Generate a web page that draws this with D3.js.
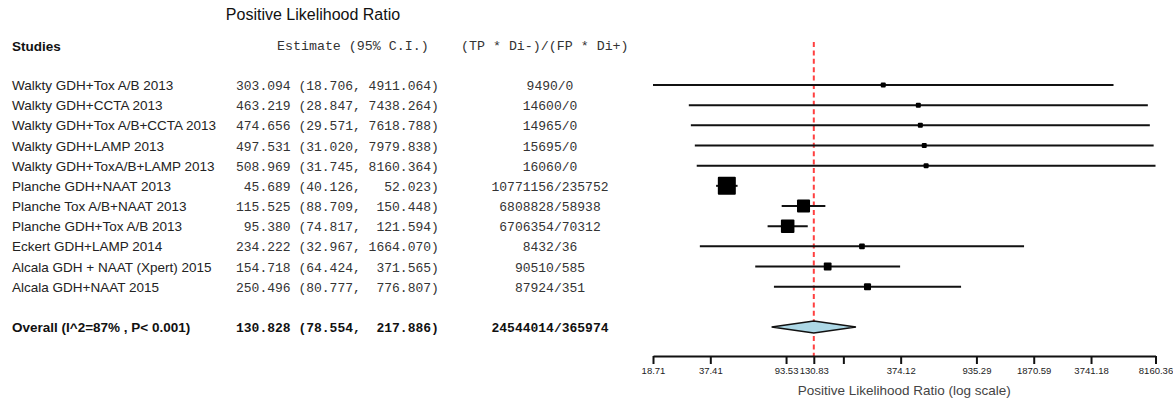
<!DOCTYPE html>
<html>
<head>
<meta charset="utf-8">
<script src="https://cdn.jsdelivr.net/npm/d3@7"></script>
<style>
  html, body { margin: 0; padding: 0; background: #fff; }
  svg { display: block; }
  .mono { font-family: "Courier New", "Liberation Mono", "DejaVu Sans Mono", monospace; white-space: pre; }
  .sans { font-family: Arial, "Liberation Sans", Helvetica, sans-serif; }
</style>
</head>
<body>
<svg id="chart" width="1173" height="398"></svg>
<script>
// Study labels and positive likelihood ratios with 95% confidence limits
const studies = [
  "Walkty GDH+Tox A/B 2013",
  "Walkty GDH+CCTA 2013",
  "Walkty GDH+Tox A/B+CCTA 2013",
  "Walkty GDH+LAMP 2013",
  "Walkty GDH+ToxA/B+LAMP 2013",
  "Planche GDH+NAAT 2013",
  "Planche Tox A/B+NAAT 2013",
  "Planche GDH+Tox A/B 2013",
  "Eckert GDH+LAMP 2014",
  "Alcala GDH + NAAT (Xpert) 2015",
  "Alcala GDH+NAAT 2015"
];
const estimates = [303.094, 463.219, 474.656, 497.531, 508.969, 45.689, 115.525, 95.380, 234.222, 154.718, 250.496];
const lowerCI   = [18.706, 28.847, 29.571, 31.020, 31.745, 40.126, 88.709, 74.817, 32.967, 64.424, 80.777];
const upperCI   = [4911.064, 7438.264, 7618.788, 7979.838, 8160.364, 52.023, 150.448, 121.594, 1664.070, 371.565, 776.807];
const ratioText = ["9490/0", "14600/0", "14965/0", "15695/0", "16060/0", "10771156/235752",
                   "6808828/58938", "6706354/70312", "8432/36", "90510/585", "87924/351"];

// Pooled (random effects) result
const overallLabel = "Overall (I^2=87% , P< 0.001)";
const overallEstimate = 130.828;
const overallLower = 78.554;
const overallUpper = 217.886;
const overallRatio = "24544014/365974";

// Axis ticks and their printed labels
const tickValues = [18.706, 37.412, 93.53, 130.828, 187.06, 374.12, 935.29, 1870.59, 3741.18, 8160.364];
const tickLabels = ["18.71", "37.41", "93.53", "130.83", "", "374.12", "935.29", "1870.59", "3741.18", "8160.36"];

const svg = d3.select("#chart");

// Log scale for the ratio axis
const x = d3.scaleLog()
  .domain([d3.min(lowerCI), d3.max(upperCI)])
  .range([653, 1155.5]);

// Row positions: studies, a blank row, then the pooled row
const rowKeys = studies.map((d, i) => "s" + i).concat(["gap", "overall"]);
const y = d3.scalePoint().domain(rowKeys).range([85, 327]);

// Inverse-variance weight from the CI width, used for square size
const weights = lowerCI.map((lo, i) => {
  const se = (Math.log(upperCI[i]) - Math.log(lo)) / (2 * 1.96);
  return 1 / (se * se);
});
const size = d3.scalePow().exponent(0.25)
  .domain(d3.extent(weights))
  .range([5, 18]);

const f3 = d3.format(".3f");
const pad = (s, n) => s.padStart(n, " ");
const ciString = (e, lo, hi) => pad(f3(e), 7) + " (" + pad(f3(lo), 6) + ", " + pad(f3(hi), 8) + ")";

// Title and column headers
svg.append("text").attr("class", "sans")
  .attr("x", 313).attr("y", 20)
  .attr("text-anchor", "middle")
  .attr("font-size", 16).attr("fill", "#111")
  .text("Positive Likelihood Ratio");

svg.append("text").attr("class", "sans")
  .attr("x", 12).attr("y", 51)
  .attr("font-size", 13.5).attr("font-weight", "bold").attr("fill", "#111")
  .text("Studies");

svg.append("text").attr("class", "mono")
  .attr("x", 277).attr("y", 50)
  .attr("font-size", 13.3).attr("fill", "#333")
  .text("Estimate (95% C.I.)");

svg.append("text").attr("class", "mono")
  .attr("x", 461).attr("y", 50)
  .attr("font-size", 13.3).attr("fill", "#333")
  .text("(TP * Di-)/(FP * Di+)");

// Per-study text columns
const ratioX = 550;
const rows = svg.append("g");
studies.forEach((name, i) => {
  const yy = y("s" + i) + 5;
  rows.append("text").attr("class", "sans")
    .attr("x", 12).attr("y", yy)
    .attr("font-size", 13.5).attr("fill", "#222")
    .text(name);
  rows.append("text").attr("class", "mono").attr("xml:space", "preserve")
    .attr("x", 236).attr("y", yy)
    .attr("font-size", 13).attr("fill", "#333")
    .text(ciString(estimates[i], lowerCI[i], upperCI[i]));
  rows.append("text").attr("class", "mono")
    .attr("x", ratioX).attr("y", yy)
    .attr("text-anchor", "middle")
    .attr("font-size", 13).attr("fill", "#333")
    .text(ratioText[i]);
});

// Pooled row text
const yo = y("overall") + 5;
svg.append("text").attr("class", "sans")
  .attr("x", 12).attr("y", yo)
  .attr("font-size", 13.5).attr("font-weight", "bold").attr("fill", "#111")
  .text(overallLabel);
svg.append("text").attr("class", "mono").attr("xml:space", "preserve")
  .attr("x", 236).attr("y", yo)
  .attr("font-size", 13).attr("font-weight", "bold").attr("fill", "#111")
  .text(ciString(overallEstimate, overallLower, overallUpper));
svg.append("text").attr("class", "mono")
  .attr("x", ratioX).attr("y", yo)
  .attr("text-anchor", "middle")
  .attr("font-size", 13).attr("font-weight", "bold").attr("fill", "#111")
  .text(overallRatio);

// Reference line at the pooled estimate
svg.append("line")
  .attr("x1", x(overallEstimate)).attr("x2", x(overallEstimate))
  .attr("y1", 42).attr("y2", 356)
  .attr("stroke", "#ff4040").attr("stroke-width", 2)
  .attr("stroke-dasharray", "5,3.4");

// Confidence interval whiskers
const plot = svg.append("g");
plot.selectAll("line.ci")
  .data(studies)
  .join("line")
  .attr("class", "ci")
  .attr("x1", (d, i) => x(lowerCI[i]))
  .attr("x2", (d, i) => x(upperCI[i]))
  .attr("y1", (d, i) => y("s" + i))
  .attr("y2", (d, i) => y("s" + i))
  .attr("stroke", "#111").attr("stroke-width", 2);

// Point estimate squares sized by weight
plot.selectAll("rect.pt")
  .data(studies)
  .join("rect")
  .attr("class", "pt")
  .attr("x", (d, i) => x(estimates[i]) - size(weights[i]) / 2)
  .attr("y", (d, i) => y("s" + i) - size(weights[i]) / 2)
  .attr("width", (d, i) => size(weights[i]))
  .attr("height", (d, i) => size(weights[i]))
  .attr("rx", 1)
  .attr("fill", "#000");

// Pooled estimate diamond
const yc = y("overall");
const dh = 6;
svg.append("path")
  .attr("d", d3.line()([
    [x(overallLower), yc],
    [x(overallEstimate), yc - dh],
    [x(overallUpper), yc],
    [x(overallEstimate), yc + dh]
  ]) + "Z")
  .attr("fill", "#add8e6")
  .attr("stroke", "#111").attr("stroke-width", 1.5);

// Bottom axis
const axis = d3.axisBottom(x)
  .tickValues(tickValues)
  .tickFormat((d, i) => tickLabels[i])
  .tickSizeOuter(0)
  .tickSizeInner(8)
  .tickPadding(3);

const gAxis = svg.append("g")
  .attr("transform", "translate(0,356)")
  .call(axis);
gAxis.select(".domain").attr("stroke", "#111").attr("stroke-width", 2);
gAxis.selectAll(".tick line").attr("stroke", "#111").attr("stroke-width", 2);
gAxis.selectAll(".tick text")
  .attr("font-family", "Arial, 'Liberation Sans', sans-serif")
  .attr("font-size", 9.5).attr("fill", "#222");

svg.append("text").attr("class", "sans")
  .attr("x", (x.range()[0] + x.range()[1]) / 2).attr("y", 395)
  .attr("text-anchor", "middle")
  .attr("font-size", 13.5).attr("fill", "#444")
  .text("Positive Likelihood Ratio (log scale)");
</script>
</body>
</html>
